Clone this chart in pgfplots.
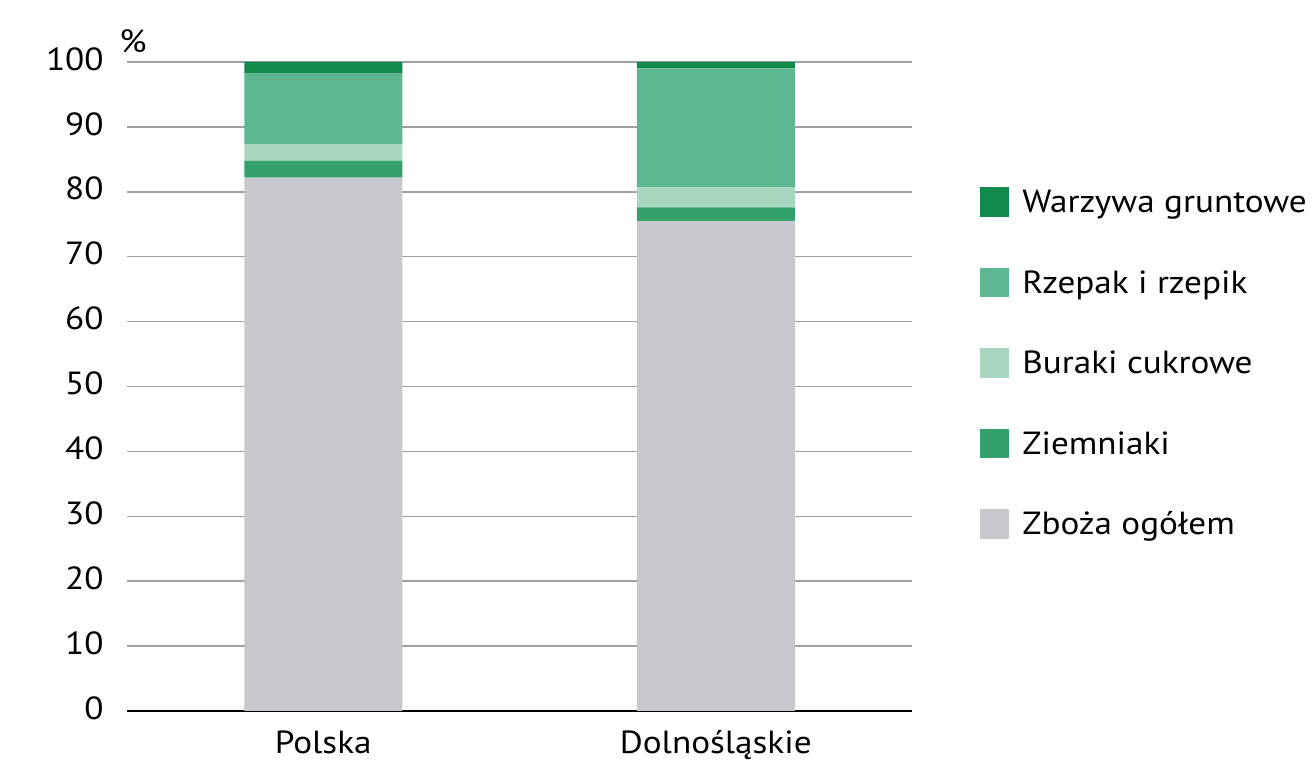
\documentclass[border=0pt]{standalone}
\usepackage{fontspec}
\setmainfont[FakeStretch=1.1]{PT Sans}
\usepackage{pgfplots}
\pgfplotsset{compat=1.18}
\definecolor{cWarz}{HTML}{118A4C}
\definecolor{cRzep}{HTML}{5DB891}
\definecolor{cBur}{HTML}{A7D7BF}
\definecolor{cZiem}{HTML}{32A06B}
\definecolor{cZboz}{HTML}{C8C7CD}
\definecolor{cGrid}{HTML}{A0A0A0}
\begin{document}
\begin{tikzpicture}[x=1pt,y=1pt]
\useasboundingbox (-63.5,-27) rectangle (592.5,355.5);
\clip (-63.5,-27) rectangle (592.5,355.5);
\begin{axis}[
  at={(0,0)}, anchor=south west,
  scale only axis,
  width=392.5pt, height=324.5pt,
  ybar stacked,
  bar width=79pt,
  xmin=-0.5, xmax=1.5,
  ymin=0, ymax=100,
  xtick={0,1},
  xticklabels={Polska,Dolnośląskie},
  ytick={0,10,...,100},
  major tick length=0pt,
  font=\fontsize{16}{19}\selectfont,
  /pgf/number format/assume math mode=true,
  yticklabel style={anchor=east, inner sep=0pt, xshift=-11.5pt, yshift=1.5pt},
  xticklabel style={anchor=base, inner sep=0pt, yshift=-21.5pt},
  axis lines*=left,
  y axis line style={draw=none},
  x axis line style={black, line width=1pt, -},
  ymajorgrids,
  grid style={cGrid, line width=0.75pt},
  reverse legend,
  legend cell align=left,
  legend image code/.code={\fill[#1] (0pt,-7.35pt) rectangle (14.7pt,7.35pt);},
  legend style={
    at={(1.08662,0.80693)}, anchor=north west,
    draw=none, fill=none, inner sep=0pt, outer sep=0pt,
    row sep=25.55pt, column sep=6.5pt,
    font=\fontsize{16}{19}\selectfont,
    nodes={inner sep=0pt, anchor=west, text height=12pt, text depth=1.2pt},
  },
  clip=false,
]
\addplot[fill=cZboz, draw=none] coordinates {(0,82.2) (1,75.5)};
\addlegendentry{Zboża ogółem}
\addplot[fill=cZiem, draw=none] coordinates {(0,2.6) (1,2.1)};
\addlegendentry{Ziemniaki}
\addplot[fill=cBur, draw=none] coordinates {(0,2.6) (1,3.1)};
\addlegendentry{Buraki cukrowe}
\addplot[fill=cRzep, draw=none] coordinates {(0,10.8) (1,18.3)};
\addlegendentry{Rzepak i rzepik}
\addplot[fill=cWarz, draw=none] coordinates {(0,1.8) (1,1.0)};
\addlegendentry{Warzywa gruntowe}
\node[anchor=base, inner sep=0pt, font=\fontsize{16}{19}\selectfont] at ([xshift=3pt,yshift=4.5pt]rel axis cs:0,1) {\%};
\end{axis}
\end{tikzpicture}
\end{document}
